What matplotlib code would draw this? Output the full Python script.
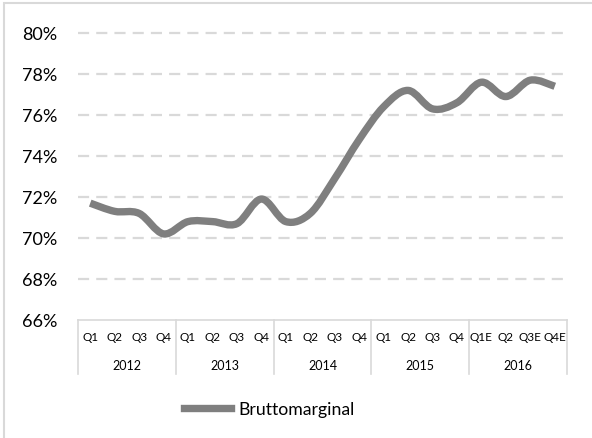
import numpy as np
import matplotlib
matplotlib.use("Agg")
from matplotlib import pyplot as plt
from matplotlib.path import Path
from matplotlib.patches import PathPatch, Rectangle
from matplotlib.lines import Line2D
import matplotlib.transforms as mtransforms

plt.rcParams['font.family'] = ['Lato', 'DejaVu Sans']

# data
years = ["2012", "2013", "2014", "2015", "2016"]
quarters = ["Q1", "Q2", "Q3", "Q4",
            "Q1", "Q2", "Q3", "Q4",
            "Q1", "Q2", "Q3", "Q4",
            "Q1", "Q2", "Q3", "Q4",
            "Q1E", "Q2", "Q3E", "Q4E"]
bruttomarginal = [71.7, 71.3, 71.2, 70.2,
                  70.8, 70.8, 70.7, 71.9,
                  70.8, 71.2, 72.9, 74.8,
                  76.4, 77.2, 76.3, 76.6,
                  77.6, 76.9, 77.7, 77.4]

grey = "#7f7f7f"
light = "#d9d9d9"

fig = plt.figure(figsize=(5.92, 4.39), dpi=100)
ax = fig.add_axes([78 / 592, 1 - 321 / 439, 489 / 592, 287 / 439])

# smoothed line like excel (catmull-rom -> bezier)
x = np.arange(len(bruttomarginal), dtype=float)
y = np.array(bruttomarginal)
pts = np.column_stack([x, y])
ext = np.vstack([pts[0], pts, pts[-1]])
verts = [pts[0]]
codes = [Path.MOVETO]
for i in range(len(pts) - 1):
    p0, p1, p2, p3 = ext[i], ext[i + 1], ext[i + 2], ext[i + 3]
    c1 = p1 + (p2 - p0) / 6.0
    c2 = p2 - (p3 - p1) / 6.0
    verts += [c1, c2, p2]
    codes += [Path.CURVE4] * 3
patch = PathPatch(Path(verts, codes), facecolor="none", edgecolor=grey,
                  lw=5.3, capstyle="butt", joinstyle="round", zorder=3)
ax.add_patch(patch)

ax.set_xlim(-0.5, len(bruttomarginal) - 0.5)
ax.set_ylim(66, 80)
ax.set_yticks(np.arange(66, 81, 2))
ax.set_yticklabels([f"{v}%" for v in range(66, 81, 2)], fontsize=13)
ax.set_xticks(x)
ax.set_xticklabels(quarters, fontsize=8.5)
ax.tick_params(axis="both", length=0)
ax.tick_params(axis="x", pad=8)
ax.tick_params(axis="y", pad=15)

for v in range(68, 81, 2):
    ax.axhline(v, xmin=0, xmax=1.004, color=light, lw=1.6,
               dashes=(5, 3.2), zorder=1, clip_on=False)

for s in ["top", "right", "left"]:
    ax.spines[s].set_visible(False)
ax.spines["bottom"].set_color(light)
ax.spines["bottom"].set_linewidth(1.2)

# year groups under the quarters
trans = mtransforms.blended_transform_factory(ax.transData, ax.transAxes)
for k in range(len(years) + 1):
    ax.add_line(Line2D([4 * k - 0.5, 4 * k - 0.5], [0, -0.188], transform=trans,
                       color=light, lw=1.2, clip_on=False))
for k, yr in enumerate(years):
    ax.text(4 * k + 1.5, -0.157, yr, transform=trans, ha="center", va="center",
            fontsize=9)

# legend
handle = Line2D([], [], color=grey, lw=5.3)
fig.legend([handle], ["Bruttomarginal"], loc="center",
           bbox_to_anchor=(269 / 592, 1 - 410 / 439), frameon=False,
           fontsize=12.7, handlelength=2.7, handletextpad=0.4)

# chart area border
fig.add_artist(Rectangle((4 / 592, -0.1), 1.2, 1 - 4 / 439 + 0.1,
                         transform=fig.transFigure, facecolor="none",
                         edgecolor=light, lw=1.5))

fig.savefig("out.png", dpi=100)
